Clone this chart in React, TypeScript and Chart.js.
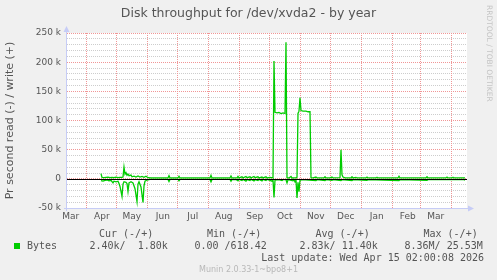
import React, { useEffect, useRef } from 'react';
import { Chart, registerables } from 'chart.js';

Chart.register(...registerables);

// ---- text ----
const TITLE = 'Disk throughput for /dev/xvda2 - by year';
const Y_TITLE = 'Pr second read (-) / write (+)';
const WATERMARK = 'RRDTOOL / TOBI OETIKER';
const SERIES_NAME = 'Bytes';
const LEGEND_HEADERS = ['Cur (-/+)', 'Min (-/+)', 'Avg (-/+)', 'Max (-/+)'];
const LEGEND_VALUES = ['2.40k/  1.80k', '0.00 /618.42', '2.83k/ 11.40k', '8.36M/ 25.53M'];
const LAST_UPDATE = 'Last update: Wed Apr 15 02:00:08 2026';
const VERSION = 'Munin 2.0.33-1~bpo8+1';

// ---- axes ----
const MONTH_LABELS = ['Mar', 'Apr', 'May', 'Jun', 'Jul', 'Aug', 'Sep', 'Oct', 'Nov', 'Dec', 'Jan', 'Feb', 'Mar'];
const Y_MAJOR = [-50000, 0, 50000, 100000, 150000, 200000, 250000];
const Y_MIN = -50000;
const Y_MAX = 250000;
const Y_MINOR_STEP = 10000;

// x is in days since the start of the graph window (400 days)
const SPAN_DAYS = 400;

// ---- series (bytes per second), write positive, read negative ----
const writeDays = [34, 35, 37, 39, 41, 43, 45, 47, 49, 51, 53, 55, 56, 57, 58, 59, 60, 61, 62, 64, 65, 67, 69, 71, 73, 75, 77, 79, 81, 84, 101, 102, 103, 111, 112, 113, 143, 144, 145, 163, 164, 165, 170, 171, 172, 175, 176, 179, 180, 183, 184, 187, 188, 191, 192, 195, 196, 199, 200, 203, 206, 207, 208, 210, 212, 214, 216, 218, 219, 220, 222, 224, 225, 229, 230, 231, 232, 233, 234, 236, 239, 241, 243, 244, 246, 249, 250, 257, 258, 259, 263, 265, 266, 273, 274, 275, 276, 278, 284, 285, 286, 289, 290, 299, 300, 301, 309, 310, 311, 331, 332, 333, 359, 360, 361, 379, 380, 381, 385, 386, 387, 398];
const writeValues = [9000, 2500, 2000, 2500, 3000, 2000, 2500, 2000, 3000, 2000, 2500, 2500, 3000, 20000, 8000, 10500, 6000, 8000, 5500, 6500, 3500, 4500, 3000, 5000, 3000, 4000, 2500, 4500, 2000, 1500, 1500, 5500, 1500, 1500, 4500, 1500, 1500, 6000, 1500, 1500, 5000, 1500, 1500, 4000, 1500, 3500, 1500, 4000, 2000, 3500, 1500, 4000, 2000, 3500, 1500, 3000, 1500, 3500, 1500, 2500, 1800, 202000, 114000, 113000, 114000, 112000, 113000, 112000, 234000, 2000, 1500, 4000, 1500, 2000, 2500, 112000, 116000, 139000, 117000, 116000, 116000, 115000, 115000, 2000, 1500, 3000, 1500, 1500, 3500, 1500, 1500, 3000, 1500, 2000, 50000, 7000, 3000, 1500, 1500, 3500, 1500, 2500, 1500, 1500, 3000, 1500, 1500, 2500, 1500, 1500, 4500, 1500, 1500, 3500, 1500, 1500, 3000, 1500, 1500, 2500, 1500, 1800];

const readDays = [34, 36, 38, 40, 42, 44, 46, 47, 49, 51, 52, 53, 55, 56, 57, 59, 60, 61, 62, 64, 66, 68, 70, 71, 72, 74, 76, 77, 78, 80, 83, 101, 102, 103, 111, 112, 113, 143, 144, 145, 163, 164, 165, 169, 171, 172, 175, 176, 179, 180, 183, 184, 187, 188, 191, 192, 195, 196, 199, 200, 203, 205, 206, 207, 208, 212, 215, 216, 219, 220, 221, 226, 227, 228, 229, 230, 231, 232, 233, 235, 249, 250, 258, 259, 265, 266, 274, 275, 285, 286, 300, 301, 332, 333, 360, 361, 397, 398];
const readValues = [-3000, -4000, -2500, -2000, -3500, -2500, -7000, -4000, -5000, -4000, -8000, -13000, -30000, -9000, -5000, -6000, -8000, -21500, -7000, -5000, -7000, -17000, -39000, -9000, -5000, -14000, -40500, -12000, -4000, -2000, -1000, -1000, -4500, -1000, -1000, -3500, -1000, -1000, -5000, -1000, -1000, -4000, -1000, -1200, -3500, -1000, -3000, -1000, -4000, -1500, -3000, -1000, -3500, -1500, -3000, -1000, -3500, -1000, -3000, -1000, -2500, -4000, -1500, -32000, -2000, -1500, -3000, -1500, -1500, -7000, -1500, -3500, -1500, -5000, -2000, -33000, -6000, -22000, -2500, -1500, -3000, -1500, -3000, -1500, -2500, -1500, -3000, -1500, -3000, -1500, -2500, -1500, -3000, -1500, -2500, -1500, -1500, -2400];

// ---- styles ----
const LINE_COLOR = '#00cc00';
const FONT_COLOR = '#555555';
const MGRID = 'rgb(240, 150, 150)';
const GRID = 'rgb(205, 205, 205)';
const AXIS_COLOR = '#c6ccf6';
const BACK = '#f0f0f0';

const DAY_MS = 86400000;
const START_MS = Date.UTC(2025, 2, 12, 16, 48);
const toDay = (y: number, m: number, d: number, h = 0) => (Date.UTC(y, m, d, h) - START_MS) / DAY_MS;

function monthBoundaries() {
  const out: number[] = [];
  for (let i = 0; i <= 13; i++) {
    const b = toDay(2025, 2 + i, 1);
    if (b > 0 && b < SPAN_DAYS) out.push(b);
  }
  return out;
}

function monthLabelTicks() {
  const out: { value: number; text: string }[] = [];
  MONTH_LABELS.forEach((lab, i) => {
    const v = toDay(2025, 2 + i, 16, 12);
    if (v > 0 && v < SPAN_DAYS) out.push({ value: v, text: lab });
  });
  return out;
}

function minorY() {
  const t: number[] = [];
  for (let v = Y_MIN; v <= Y_MAX; v += Y_MINOR_STEP) if (!Y_MAJOR.includes(v)) t.push(v);
  return t;
}

const fmtY = (v: number) => (v === 0 ? '0' : `${v / 1000} k`);

const muninPlugin = {
  id: 'munin',
  beforeDraw(chart: any) {
    const { ctx, chartArea: a } = chart;
    ctx.save();
    ctx.fillStyle = BACK;
    ctx.fillRect(0, 0, chart.width, chart.height);
    ctx.fillStyle = '#ffffff';
    ctx.fillRect(a.left, a.top, a.right - a.left, a.bottom - a.top);
    ctx.restore();
  },
  afterDatasetsDraw(chart: any) {
    const { ctx, chartArea: a, scales } = chart;
    const y0 = Math.round(scales.y.getPixelForValue(0)) + 0.5;
    ctx.save();
    ctx.strokeStyle = '#000000';
    ctx.lineWidth = 1;
    ctx.beginPath();
    ctx.moveTo(a.left, y0);
    ctx.lineTo(a.right, y0);
    ctx.stroke();
    ctx.restore();
  },
  afterDraw(chart: any) {
    const { ctx, chartArea: a } = chart;
    ctx.save();
    const ax = a.left - 0.5;
    const ay = a.bottom + 0.5;
    ctx.strokeStyle = AXIS_COLOR;
    ctx.fillStyle = AXIS_COLOR;
    ctx.lineWidth = 1;
    ctx.beginPath();
    ctx.moveTo(ax, a.bottom + 3);
    ctx.lineTo(ax, a.top - 4);
    ctx.moveTo(a.left - 3, ay);
    ctx.lineTo(a.right + 3, ay);
    ctx.stroke();
    ctx.beginPath();
    ctx.moveTo(ax - 3, a.top - 1);
    ctx.lineTo(ax + 3, a.top - 1);
    ctx.lineTo(ax, a.top - 7);
    ctx.closePath();
    ctx.fill();
    ctx.beginPath();
    ctx.moveTo(a.right + 1, ay - 3);
    ctx.lineTo(a.right + 1, ay + 3);
    ctx.lineTo(a.right + 7, ay);
    ctx.closePath();
    ctx.fill();

    ctx.fillStyle = FONT_COLOR;
    ctx.font = '12.5px "DejaVu Sans"';
    ctx.textAlign = 'center';
    ctx.textBaseline = 'alphabetic';
    ctx.fillText(TITLE, chart.width / 2, 16.5);

    ctx.save();
    ctx.translate(489, 5);
    ctx.rotate(Math.PI / 2);
    ctx.fillStyle = '#c4c4c4';
    ctx.font = '7.5px "DejaVu Sans"';
    ctx.textAlign = 'left';
    ctx.textBaseline = 'middle';
    ctx.fillText(WATERMARK, 0, 0);
    ctx.restore();

    ctx.font = '10px "DejaVu Sans Mono"';
    ctx.textAlign = 'left';
    ctx.fillStyle = FONT_COLOR;
    const headerX = [99, 207, 315.5, 423.5];
    LEGEND_HEADERS.forEach((h, i) => ctx.fillText(h, headerX[i], 236.5));
    ctx.fillStyle = LINE_COLOR;
    ctx.fillRect(14, 243, 6, 6);
    ctx.fillStyle = FONT_COLOR;
    ctx.fillText(SERIES_NAME, 27, 249);
    const valX = [89.5, 194.5, 299.5, 404.5];
    LEGEND_VALUES.forEach((v, i) => ctx.fillText(v, valX[i], 249));
    ctx.textAlign = 'right';
    ctx.fillText(LAST_UPDATE, 484, 261);

    ctx.textAlign = 'center';
    ctx.fillStyle = '#b8b8b8';
    ctx.font = '8px "DejaVu Sans"';
    ctx.fillText(VERSION, chart.width / 2, 272);
    ctx.restore();
  },
};

export default function App() {
  const ref = useRef<HTMLCanvasElement | null>(null);

  useEffect(() => {
    if (!ref.current) return;
    const bounds = monthBoundaries();
    const labels = monthLabelTicks();
    const minors = minorY();
    const tickFont = { family: 'DejaVu Sans', size: 9 };
    const line = (label: string, days: number[], vals: number[]) => ({
      label,
      data: days.map((d, i) => ({ x: d, y: vals[i] })),
      borderColor: LINE_COLOR,
      backgroundColor: LINE_COLOR,
      borderWidth: 1.3,
      pointRadius: 0,
      tension: 0,
      fill: false,
      xAxisID: 'x',
      yAxisID: 'y',
    });
    const chart = new Chart(ref.current, {
      type: 'line',
      data: {
        datasets: [line('read', readDays, readValues), line('write', writeDays, writeValues)],
      },
      options: {
        animation: false,
        responsive: false,
        maintainAspectRatio: false,
        devicePixelRatio: 1,
        layout: { padding: { left: 0, right: 30, top: 33, bottom: 0 } },
        plugins: {
          legend: { display: false },
          tooltip: { enabled: false },
          title: { display: false },
        },
        scales: {
          yMinor: {
            type: 'linear',
            position: 'left',
            min: Y_MIN,
            max: Y_MAX,
            weight: 0,
            afterBuildTicks: (s: any) => {
              s.ticks = minors.map((v) => ({ value: v }));
            },
            afterFit: (s: any) => {
              s.width = 0;
            },
            grid: { drawTicks: false, lineWidth: 1, color: GRID },
            border: { display: false, dash: [1, 1] },
            ticks: { display: false },
          },
          y: {
            type: 'linear',
            position: 'left',
            min: Y_MIN,
            max: Y_MAX,
            weight: 1,
            afterBuildTicks: (s: any) => {
              s.ticks = Y_MAJOR.map((v) => ({ value: v }));
            },
            afterFit: (s: any) => {
              s.width = 67;
            },
            grid: { drawTicks: false, lineWidth: 1, color: MGRID },
            border: { display: false, dash: [1, 1] },
            ticks: {
              autoSkip: false,
              padding: 6,
              color: FONT_COLOR,
              font: tickFont,
              callback: (v: any) => fmtY(v),
            },
            title: {
              display: true,
              text: Y_TITLE,
              color: FONT_COLOR,
              font: { family: 'DejaVu Sans', size: 11 },
              padding: { top: 4, bottom: 0 },
            },
          },
          x: {
            type: 'linear',
            position: 'bottom',
            min: 0,
            max: SPAN_DAYS,
            weight: 1,
            afterBuildTicks: (s: any) => {
              s.ticks = bounds.map((v) => ({ value: v }));
            },
            afterFit: (s: any) => {
              s.height = 0;
            },
            grid: { drawTicks: false, lineWidth: 1, color: MGRID },
            border: { display: false, dash: [1, 1] },
            ticks: { display: false },
          },
          xLabels: {
            type: 'linear',
            position: 'bottom',
            min: 0,
            max: SPAN_DAYS,
            weight: 0,
            afterBuildTicks: (s: any) => {
              s.ticks = labels.map((t) => ({ value: t.value }));
            },
            afterFit: (s: any) => {
              s.height = 72;
            },
            grid: { display: false, drawTicks: false },
            border: { display: false },
            ticks: {
              autoSkip: false,
              maxRotation: 0,
              minRotation: 0,
              padding: 3,
              color: FONT_COLOR,
              font: tickFont,
              callback: (_v: any, i: number) => (labels[i] ? labels[i].text : ''),
            },
          },
        },
      },
      plugins: [muninPlugin],
    } as any);
    return () => chart.destroy();
  }, []);

  return (
    <div style={{ position: 'fixed', left: 0, top: 0, width: 497, height: 280, background: BACK }}>
      <canvas ref={ref} width={497} height={280} style={{ display: 'block', width: 497, height: 280 }} />
    </div>
  );
}
